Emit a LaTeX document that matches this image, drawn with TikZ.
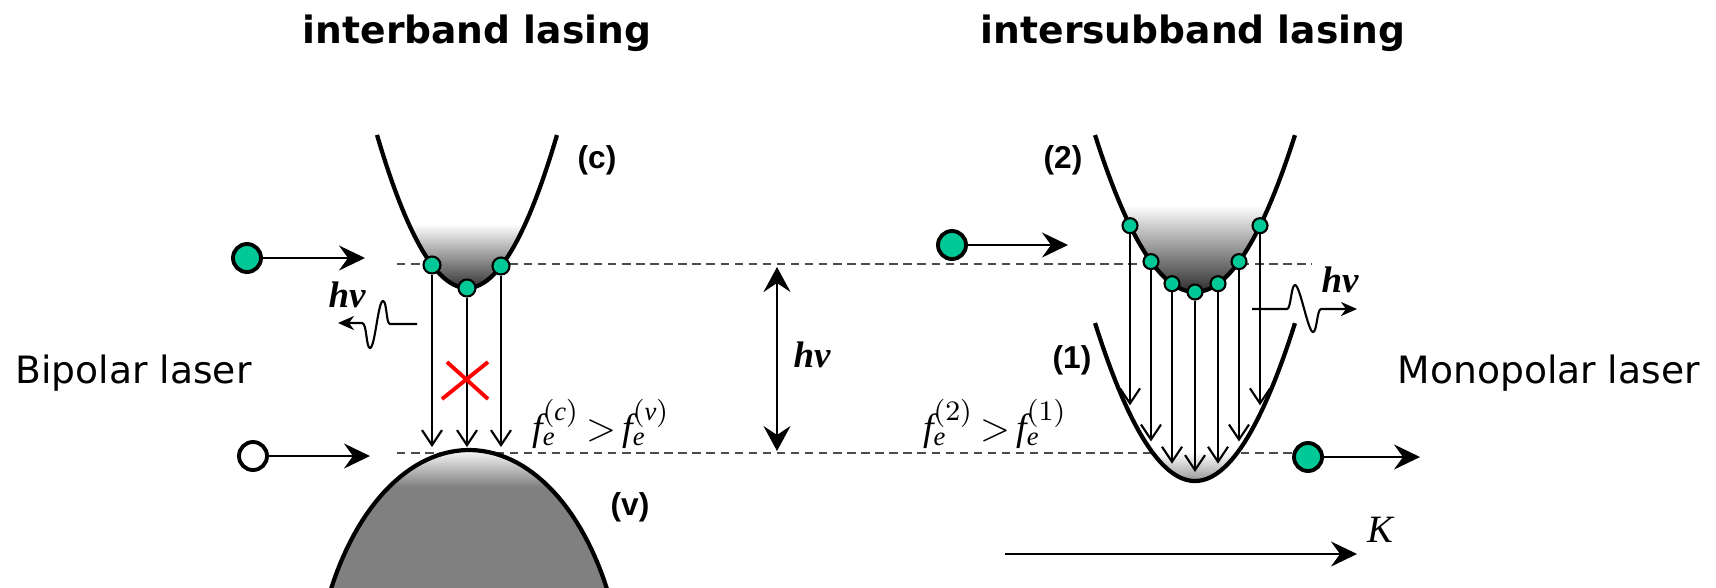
\documentclass[tikz,border=0pt]{standalone}
\usepackage{fontspec}
\setmainfont{Liberation Serif}
\newfontfamily\headfont{DejaVu Sans}
\newfontfamily\bandfont{Liberation Sans}
\usetikzlibrary{arrows.meta}
\definecolor{electron}{RGB}{0,200,150}
\tikzset{
  band/.style={line width=1.2pt},
  level/.style={dashed, dash pattern=on 2.4pt off 1.6pt, line width=0.45pt, black!70},
  carrier/.style={circle, draw, line width=1.1pt, fill=electron, minimum size=0.28cm},
  hole/.style={carrier, fill=white},
  popdot/.style={circle, draw, line width=0.6pt, fill=electron, minimum size=0.17cm},
  drift/.style={line width=0.7pt, -{Stealth[length=0.26cm, width=0.25cm, inset=0.09cm]}},
  trans/.style={line width=0.6pt, -{Straight Barb[length=0.15cm, width=0.2cm]}},
  photon/.style={line width=0.6pt, -{Stealth[length=0.16cm, width=0.14cm, inset=0.05cm]}},
  headtext/.style={font=\headfont\bfseries\fontsize{10.7}{12}\selectfont},
  sidetext/.style={font=\headfont\fontsize{10.7}{12}\selectfont},
  bandlabel/.style={font=\bandfont\bfseries\fontsize{9}{10}\selectfont},
  energy/.style={font=\bfseries\itshape\fontsize{10.5}{12}\selectfont},
  occup/.style={font=\fontsize{10.8}{12}\selectfont},
}
\begin{document}
\begin{tikzpicture}[x=0.01cm, y=-0.01cm, every node/.style={inner sep=0pt}]
    \useasboundingbox (0,0) rectangle (1716,587);
    % energy levels
    \coordinate (upL) at (397,264);
    \coordinate (upR) at (1312,264);
    \coordinate (loL) at (397,453);
    \coordinate (loR) at (1292,453);
    \draw[level] (upL) -- (upR);
    \draw[level] (loL) -- (loR);
    % conduction band (c)
    \begin{scope}
        \clip plot[domain=-0.9:0.9, samples=60] ({467+100*\x}, {288-189*\x*\x}) -- cycle;
        \shade[top color=white, bottom color=black!85] (360,224) rectangle (570,292);
    \end{scope}
    \draw[band] plot[domain=-0.9:0.9, samples=60] ({467+100*\x}, {288-189*\x*\x});
    % valence band (v)
    \fill[black!50] plot[domain=208:332, samples=60] ({469+156.5*cos(\x)}, {713+263*sin(\x)}) -- cycle;
    \begin{scope}
        \clip plot[domain=208:332, samples=60] ({469+156.5*cos(\x)}, {713+263*sin(\x)}) -- cycle;
        \shade[top color=white, bottom color=black!50] (320,448) rectangle (620,487);
    \end{scope}
    \draw[band] plot[domain=208:332, samples=60] ({469+156.5*cos(\x)}, {713+263*sin(\x)});
    % subband (2)
    \begin{scope}
        \clip plot[domain=-1:1, samples=60] ({1195+100*\x}, {292-157*\x*\x}) -- cycle;
        \shade[top color=white, bottom color=black!85] (1090,205) rectangle (1300,295);
    \end{scope}
    \draw[band] plot[domain=-1:1, samples=60] ({1195+100*\x}, {292-157*\x*\x});
    % subband (1)
    \begin{scope}
        \clip plot[domain=-1:1, samples=60] ({1195+100*\x}, {481-158*\x*\x}) -- cycle;
        \shade[top color=white, bottom color=black!45] (1090,452) rectangle (1300,484);
    \end{scope}
    \draw[band] plot[domain=-1:1, samples=60] ({1195+100*\x}, {481-158*\x*\x});
    % interband transitions
    \coordinate (vend) at (0,447);
    \node[popdot] (c1) at (432,265) {};
    \node[popdot] (c2) at (467,288) {};
    \node[popdot] (c3) at (501,266) {};
    \foreach \i in {1,2,3}
        \draw[trans] (c\i) -- (c\i |- vend);
    \draw[red, line width=1.1pt] (442,399) -- (488,362) (447,362) -- (488,399);
    % intersubband transitions
    \foreach \d [count=\i] in {-65,-44,-23,0,23,44,65}{
        \coordinate (e\i) at ({1195+\d}, {472-0.0158*(\d)*(\d)});
        \node[popdot, minimum size=0.15cm] (s\i) at ({1195+\d}, {292-0.0157*(\d)*(\d)}) {};
        \draw[trans] (s\i) -- (e\i);
    }
    % carriers
    \node[carrier] (eL) at (247,258) {};
    \coordinate (eLend) at (365,258);
    \draw[drift] (eL) -- (eLend);
    \node[hole] (hL) at (253,456) {};
    \coordinate (hLend) at (370,456);
    \draw[drift] (hL) -- (hLend);
    \node[carrier] (eR) at (952,245) {};
    \coordinate (eRend) at (1068,245);
    \draw[drift] (eR) -- (eRend);
    \node[carrier] (eR2) at (1308,457) {};
    \coordinate (eR2end) at (1420,457);
    \draw[drift] (eR2) -- (eR2end);
    % photons
    \draw[photon] (417,324) -- (390,324) .. controls (386,324) and (387,301) .. (383,301)
        .. controls (378,301) and (375,348) .. (370,348) .. controls (366,348) and (367,323) .. (362,323) -- (338,323);
    \draw[photon] (1252,309) -- (1287,309) .. controls (1291,309) and (1291,285) .. (1295,285)
        .. controls (1300,285) and (1308,332) .. (1313,332) .. controls (1317,332) and (1317,309) .. (1321,309) -- (1357,309);
    % photon energy
    \coordinate (gapT) at (777,267);
    \coordinate (gapB) at (777,451);
    \draw[line width=0.7pt, {Stealth[length=0.25cm, width=0.27cm, inset=0.09cm]}-{Stealth[length=0.25cm, width=0.27cm, inset=0.09cm]}] (gapT) -- (gapB);
    % wave vector
    \coordinate (kL) at (1005,554);
    \coordinate (kR) at (1357,554);
    \draw[drift] (kL) -- (kR);
    % labels
    \node[headtext, anchor=base] (tInter) at (477,43) {interband lasing};
    \node[headtext, anchor=base] (tSub) at (1193,43) {intersubband lasing};
    \node[sidetext, anchor=base west] (bip) at (15,383) {Bipolar laser};
    \node[sidetext, anchor=base west] (mono) at (1397,383) {Monopolar laser};
    \node[bandlabel] (lc) at (597,160) {(c)};
    \node[bandlabel] (lv) at (630,507) {(v)};
    \node[bandlabel] (l2) at (1063,160) {(2)};
    \node[bandlabel] (l1) at (1072,360) {(1)};
    \node[energy] (hvL) at (347,295) {hv};
    \node[energy] (hvM) at (812,355) {hv};
    \node[energy] (hvR) at (1340,280) {hv};
    \node[occup] (fL) at (601,424) {$\mathit{f}_{\mathit{e}}^{(\mathit{c})}\,{>}\,\mathit{f}_{\mathit{e}}^{(\mathit{v})}$};
    \node[occup] (fR) at (995,424) {$\mathit{f}_{\mathit{e}}^{(2)}\,{>}\,\mathit{f}_{\mathit{e}}^{(1)}$};
    \node[font=\itshape\fontsize{11}{12}\selectfont] (K) at (1380,530) {K};
\end{tikzpicture}
\end{document}
